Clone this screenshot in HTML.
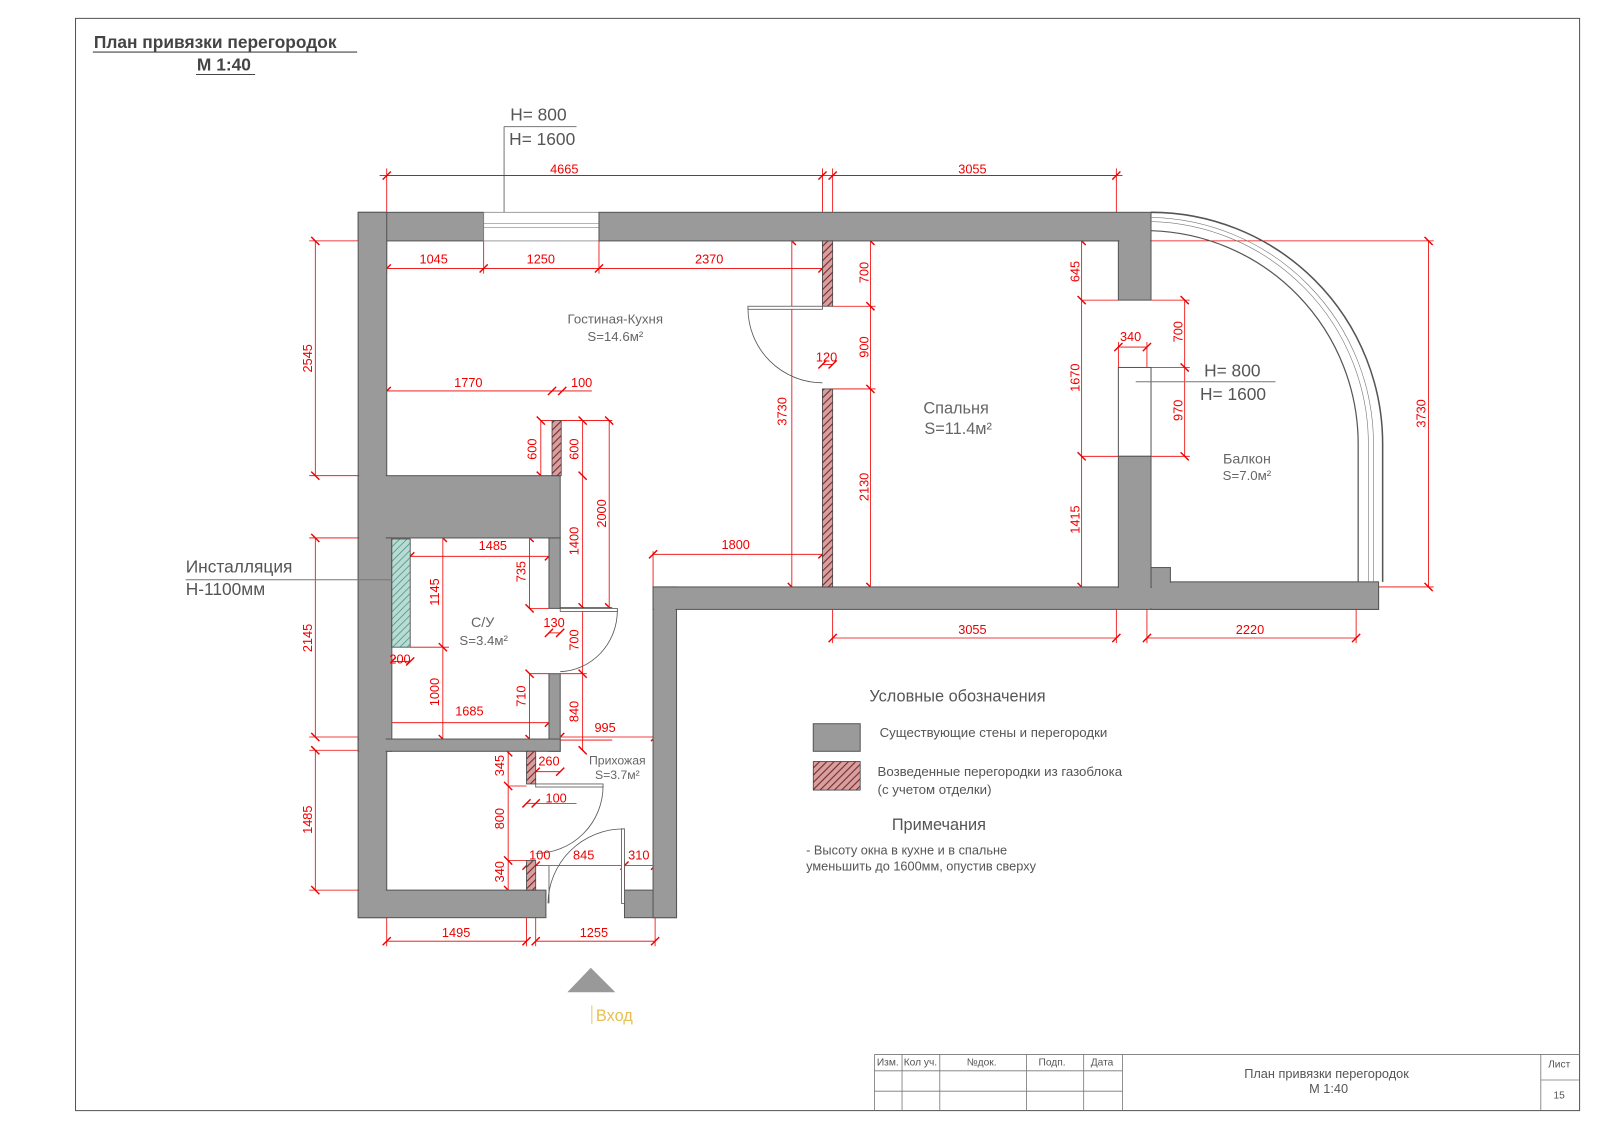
<!DOCTYPE html>
<html><head><meta charset="utf-8"><style>
html,body{margin:0;padding:0;background:#fff}
svg{display:block}
text{font-family:"Liberation Sans",sans-serif}
.d{fill:#e00;font-size:12.5px;text-anchor:middle}
.g{fill:#666;text-anchor:middle}
.w{fill:#9a9a9a;stroke:#555;stroke-width:1}
.h{fill:url(#hat);stroke:#444;stroke-width:0.8}
.l{fill:none;stroke:#e00;stroke-width:0.8}
.dl{fill:none;stroke:#e00;stroke-width:0.8;marker-start:url(#t);marker-mid:url(#t);marker-end:url(#t)}
.k{fill:none;stroke:#555;stroke-width:0.8}
</style></head><body>
<svg width="1600" height="1130" viewBox="0 0 1568 1107" preserveAspectRatio="none" xmlns="http://www.w3.org/2000/svg">
<defs>
<pattern id="hat" patternUnits="userSpaceOnUse" width="5" height="5" patternTransform="rotate(45)">
<rect width="5" height="5" fill="#d7a0a0"/><line x1="0" y1="0" x2="0" y2="5" stroke="#7a2a2a" stroke-width="2.2"/></pattern>
<pattern id="grn" patternUnits="userSpaceOnUse" width="5" height="5" patternTransform="rotate(45)">
<rect width="5" height="5" fill="#b8dcd4"/><line x1="0" y1="0" x2="0" y2="5" stroke="#4a9080" stroke-width="1.5"/></pattern>
<marker id="t" markerUnits="userSpaceOnUse" markerWidth="14" markerHeight="14" refX="7" refY="7" orient="auto"><line x1="3" y1="11" x2="11" y2="3" stroke="#e00" stroke-width="1.4"/></marker>
</defs>
<rect x="0" y="0" width="1576" height="1113" fill="#fff"/>
<rect x="74" y="18" width="1474" height="1070" fill="none" stroke="#555" stroke-width="1"/>

<text x="92" y="47" font-size="17" font-weight="bold" fill="#444">План привязки перегородок</text>
<line x1="91" y1="51" x2="350" y2="51" stroke="#444"/>
<text x="193" y="69" font-size="17" font-weight="bold" fill="#444">М 1:40</text>
<line x1="192" y1="73" x2="250" y2="73" stroke="#444"/>

<text x="500" y="118" font-size="17" fill="#555">H= 800</text>
<line x1="494" y1="124" x2="565" y2="124" stroke="#777"/>
<text x="499" y="142" font-size="17" fill="#555">H= 1600</text>
<line x1="494" y1="124" x2="494" y2="208" stroke="#777"/>

<g class="l">
<line x1="379" y1="165" x2="379" y2="268"/><line x1="806" y1="165" x2="806" y2="236"/>
<line x1="816" y1="165" x2="816" y2="236"/><line x1="1094" y1="165" x2="1094" y2="236"/>
<line x1="474" y1="236" x2="474" y2="268"/><line x1="587" y1="236" x2="587" y2="268"/>
<line x1="303" y1="236" x2="351" y2="236"/><line x1="303" y1="466" x2="351" y2="466"/>
<line x1="303" y1="527" x2="351" y2="527"/><line x1="303" y1="722" x2="351" y2="722"/>
<line x1="303" y1="735" x2="351" y2="735"/><line x1="303" y1="872" x2="351" y2="872"/>
<line x1="1060" y1="236" x2="1405" y2="236"/><line x1="640" y1="575" x2="1405" y2="575"/>
<line x1="816" y1="300" x2="858" y2="300"/><line x1="816" y1="381" x2="858" y2="381"/>
<line x1="530" y1="412" x2="600" y2="412"/><line x1="549" y1="595" x2="600" y2="595"/>
<line x1="640" y1="540" x2="640" y2="575"/>
<line x1="816" y1="597" x2="816" y2="630"/><line x1="1094" y1="597" x2="1094" y2="630"/>
<line x1="1124" y1="597" x2="1124" y2="630"/><line x1="1329" y1="570" x2="1329" y2="630"/>
<line x1="1124" y1="294" x2="1166" y2="294"/><line x1="1124" y1="360" x2="1166" y2="360"/><line x1="1124" y1="447" x2="1166" y2="447"/>
<line x1="1060" y1="294" x2="1096" y2="294"/><line x1="1060" y1="447" x2="1096" y2="447"/>
<line x1="1096" y1="335" x2="1096" y2="360"/><line x1="1124" y1="335" x2="1124" y2="360"/>
<line x1="379" y1="897" x2="379" y2="927"/><line x1="516" y1="872" x2="516" y2="927"/><line x1="525" y1="872" x2="525" y2="927"/><line x1="642" y1="897" x2="642" y2="927"/>
<line x1="612" y1="843" x2="612" y2="872"/><line x1="642" y1="830" x2="642" y2="850"/>
<line x1="498" y1="770" x2="516" y2="770"/><line x1="498" y1="843" x2="516" y2="843"/>
<line x1="549" y1="725" x2="600" y2="725"/><line x1="549" y1="660" x2="575" y2="660"/>
<line x1="519" y1="596" x2="538" y2="596"/><line x1="519" y1="660" x2="538" y2="660"/>
<line x1="402" y1="634" x2="440" y2="634"/>
</g>

<g>
<polyline class="dl" points="379,172 806,172"/>
<polyline class="dl" points="816,172 1094,172"/>
<line class="l" x1="372" y1="172" x2="1100" y2="172"/>
<polyline class="dl" points="379,263 474,263 587,263 806,263"/>
<polyline class="dl" points="309,236 309,466"/>
<polyline class="dl" points="309,527 309,722"/>
<polyline class="dl" points="309,735 309,872"/>
<polyline class="dl" points="379,383 541,383 551,383"/><line class="l" x1="541" y1="383" x2="580" y2="383"/>
<polyline class="dl" points="530,412 530,466"/>
<polyline class="dl" points="571,412 571,466 571,595 571,660 571,735"/>
<polyline class="dl" points="597,412 597,595"/>
<polyline class="dl" points="402,545 538,545"/>
<polyline class="dl" points="434,527 434,634 434,724"/>
<polyline class="dl" points="519,527 519,596"/>
<polyline class="dl" points="519,660 519,724"/>
<polyline class="dl" points="538,620 549,620"/>
<polyline class="dl" points="379,708 538,708"/>
<polyline class="dl" points="384,648 402,648"/>
<polyline class="dl" points="549,722 642,722"/>
<polyline class="dl" points="525,756 549,756"/>
<polyline class="dl" points="498,737 498,770 498,843 498,872"/>
<polyline class="dl" points="516,787 525,787"/><line class="l" x1="525" y1="787" x2="565" y2="787"/>
<polyline class="dl" points="516,848 525,848 612,848 642,848"/>
<polyline class="dl" points="379,922 516,922"/>
<polyline class="dl" points="525,922 642,922"/>
<polyline class="dl" points="640,543 806,543"/>
<polyline class="dl" points="776,236 776,575"/>
<polyline class="dl" points="853,236 853,300 853,381 853,575"/>
<polyline class="dl" points="806,357 816,357"/>
<polyline class="dl" points="816,625 1094,625"/>
<polyline class="dl" points="1124,625 1329,625"/>
<polyline class="dl" points="1060,236 1060,294 1060,447 1060,575"/>
<polyline class="dl" points="1096,340 1124,340"/>
<polyline class="dl" points="1161,294 1161,360 1161,447"/>
<polyline class="dl" points="1400,236 1400,575"/>
</g>

<rect class="w" x="351" y="208" width="123" height="28"/>
<rect x="474" y="208" width="113" height="28" fill="#fff" stroke="#888" stroke-width="0.8"/>
<line x1="474" y1="219" x2="587" y2="219" stroke="#888" stroke-width="0.6"/>
<line x1="474" y1="223" x2="587" y2="223" stroke="#888" stroke-width="0.6"/>
<rect class="w" x="587" y="208" width="541" height="28"/>
<rect class="w" x="351" y="208" width="28" height="691"/>
<rect class="w" x="351" y="466" width="198" height="61"/>
<rect class="w" x="351" y="527" width="33" height="209"/>
<rect class="w" x="538" y="527" width="11" height="69"/>
<rect class="w" x="538" y="660" width="11" height="76"/>
<rect class="w" x="351" y="724" width="198" height="12"/>
<rect class="w" x="351" y="872" width="184" height="27"/>
<rect class="w" x="612" y="872" width="51" height="27"/>
<rect class="w" x="640" y="575" width="23" height="324"/>
<rect class="w" x="640" y="575" width="711" height="22"/>
<rect class="w" x="1128" y="570" width="223" height="27"/>
<rect class="w" x="1128" y="556" width="19" height="20"/>
<rect class="w" x="1096" y="236" width="32" height="58"/>
<rect x="1096" y="360" width="32" height="87" fill="#fff" stroke="#555"/>
<rect class="w" x="1096" y="447" width="32" height="140"/>
<rect x="352" y="236" width="26" height="662" fill="#9a9a9a"/>
<rect x="352" y="467" width="196" height="59" fill="#9a9a9a"/>
<rect x="641" y="576" width="709" height="20" fill="#9a9a9a"/>
<rect x="641" y="576" width="21" height="322" fill="#9a9a9a"/>
<rect x="1097" y="448" width="30" height="148" fill="#9a9a9a"/>
<rect x="1097" y="235" width="30" height="4" fill="#9a9a9a"/>
<rect x="1129" y="571" width="221" height="25" fill="#9a9a9a"/>
<rect x="1129" y="557" width="17" height="20" fill="#9a9a9a"/>

<path d="M1128,208 A227,227 0 0 1 1355,435 L1355,570" fill="none" stroke="#555" stroke-width="1.5"/>
<path d="M1128,213 A222,222 0 0 1 1346,435 L1346,570" fill="none" stroke="#777" stroke-width="0.6"/>
<path d="M1128,217 A218,218 0 0 1 1341,435 L1341,570" fill="none" stroke="#777" stroke-width="0.6"/>
<path d="M1128,226 A209,209 0 0 1 1331,435 L1331,570" fill="none" stroke="#555" stroke-width="1.2"/>

<rect class="h" x="806" y="236" width="10" height="64"/>
<rect class="h" x="806" y="381" width="10" height="194"/>
<rect class="h" x="541" y="412" width="9" height="54"/>
<rect class="h" x="516" y="736" width="9" height="32"/>
<rect class="h" x="516" y="843" width="9" height="29"/>
<rect x="384" y="528" width="18" height="106" fill="url(#grn)" stroke="#444" stroke-width="0.8"/>

<g class="k">
<rect x="733" y="300" width="73" height="3" fill="#fff"/>
<path d="M733,302 A73,73 0 0 0 806,375"/>
<rect x="549" y="596" width="56" height="3" fill="#fff"/>
<path d="M605,598 A58,60 0 0 1 549,658"/>
<rect x="525" y="768" width="66" height="3" fill="#fff"/>
<path d="M591,770 A66,66 0 0 1 525,836"/>
<rect x="609" y="812" width="3" height="73" fill="#fff"/>
<path d="M611,812 A74,74 0 0 0 537,885"/>
<line x1="538" y1="848" x2="538" y2="885"/>
</g>

<text class="g" x="603" y="317" font-size="13">Гостиная-Кухня</text>
<text class="g" x="603" y="334" font-size="13">S=14.6м²</text>
<text class="g" x="937" y="405" font-size="16">Спальня</text>
<text class="g" x="939" y="425" font-size="16">S=11.4м²</text>
<text class="g" x="473" y="614" font-size="14">С/У</text>
<text class="g" x="474" y="632" font-size="13">S=3.4м²</text>
<text class="g" x="605" y="749" font-size="12">Прихожая</text>
<text class="g" x="605" y="763" font-size="12">S=3.7м²</text>
<text class="g" x="1222" y="454" font-size="14">Балкон</text>
<text class="g" x="1222" y="470" font-size="13">S=7.0м²</text>
<text x="1180" y="369" font-size="17" fill="#555">H= 800</text>
<line x1="1113" y1="374" x2="1250" y2="374" stroke="#777"/>
<text x="1176" y="392" font-size="17" fill="#555">H= 1600</text>
<text x="182" y="561" font-size="17" fill="#555">Инсталляция</text>
<line x1="182" y1="568" x2="384" y2="568" stroke="#777"/>
<text x="182" y="583" font-size="17" fill="#555">H-1100мм</text>

<g class="d">
<text x="553" y="170">4665</text><text x="953" y="170">3055</text>
<text x="425" y="258">1045</text><text x="530" y="258">1250</text><text x="695" y="258">2370</text>
<text x="459" y="379">1770</text><text x="570" y="379">100</text>
<text x="483" y="539">1485</text><text x="460" y="701">1685</text><text x="392" y="650">200</text>
<text x="543" y="614">130</text><text x="593" y="717">995</text><text x="538" y="750">260</text>
<text x="545" y="786">100</text><text x="529" y="842">100</text><text x="572" y="842">845</text><text x="626" y="842">310</text>
<text x="447" y="918">1495</text><text x="582" y="918">1255</text>
<text x="721" y="538">1800</text><text x="810" y="354">120</text>
<text x="953" y="621">3055</text><text x="1225" y="621">2220</text><text x="1108" y="334">340</text>
<text transform="translate(306,351) rotate(-90)">2545</text>
<text transform="translate(306,625) rotate(-90)">2145</text>
<text transform="translate(306,803) rotate(-90)">1485</text>
<text transform="translate(526,440) rotate(-90)">600</text>
<text transform="translate(567,440) rotate(-90)">600</text>
<text transform="translate(594,503) rotate(-90)">2000</text>
<text transform="translate(567,530) rotate(-90)">1400</text>
<text transform="translate(430,580) rotate(-90)">1145</text>
<text transform="translate(430,678) rotate(-90)">1000</text>
<text transform="translate(515,560) rotate(-90)">735</text>
<text transform="translate(515,682) rotate(-90)">710</text>
<text transform="translate(567,627) rotate(-90)">700</text>
<text transform="translate(567,697) rotate(-90)">840</text>
<text transform="translate(494,750) rotate(-90)">345</text>
<text transform="translate(494,802) rotate(-90)">800</text>
<text transform="translate(494,854) rotate(-90)">340</text>
<text transform="translate(771,403) rotate(-90)">3730</text>
<text transform="translate(851,267) rotate(-90)">700</text>
<text transform="translate(851,340) rotate(-90)">900</text>
<text transform="translate(851,477) rotate(-90)">2130</text>
<text transform="translate(1058,266) rotate(-90)">645</text>
<text transform="translate(1058,370) rotate(-90)">1670</text>
<text transform="translate(1058,509) rotate(-90)">1415</text>
<text transform="translate(1159,325) rotate(-90)">700</text>
<text transform="translate(1159,402) rotate(-90)">970</text>
<text transform="translate(1397,405) rotate(-90)">3730</text>
</g>

<polygon points="556,972 603,972 579,948" fill="#999"/>
<line x1="580" y1="985" x2="580" y2="1003" stroke="#e8c860"/>
<text x="584" y="1000" font-size="16" fill="#e8c050" font-family="Liberation Serif,serif">Вход</text>

<text x="852" y="687" font-size="16" fill="#555">Условные обозначения</text>
<rect class="w" x="797" y="709" width="46" height="27"/>
<text x="862" y="722" font-size="13" fill="#555">Существующие стены и перегородки</text>
<rect class="h" x="797" y="746" width="46" height="28"/>
<text x="860" y="760" font-size="13" fill="#555">Возведенные перегородки  из газоблока</text>
<text x="860" y="778" font-size="13" fill="#555">(с учетом отделки)</text>
<text x="874" y="813" font-size="16" fill="#555">Примечания</text>
<text x="790" y="837" font-size="12.5" fill="#555">- Высоту окна в кухне  и в спальне</text>
<text x="790" y="853" font-size="12.5" fill="#555">уменьшить до 1600мм, опустив сверху</text>

<g stroke="#777" stroke-width="0.8" fill="none">
<line x1="857" y1="1033" x2="1548" y2="1033"/>
<line x1="857" y1="1033" x2="857" y2="1088"/>
<line x1="884" y1="1033" x2="884" y2="1088"/><line x1="921" y1="1033" x2="921" y2="1088"/>
<line x1="1006" y1="1033" x2="1006" y2="1088"/><line x1="1062" y1="1033" x2="1062" y2="1088"/>
<line x1="1100" y1="1033" x2="1100" y2="1088"/><line x1="1510" y1="1033" x2="1510" y2="1088"/>
<line x1="857" y1="1049" x2="1100" y2="1049"/><line x1="857" y1="1069" x2="1100" y2="1069"/>
<line x1="1510" y1="1058" x2="1548" y2="1058"/>
</g>
<g font-size="10" fill="#555" text-anchor="middle">
<text x="870" y="1044">Изм.</text><text x="902" y="1044">Кол уч.</text><text x="962" y="1044">№док.</text>
<text x="1031" y="1044">Подп.</text><text x="1080" y="1044">Дата</text>
<text x="1528" y="1046">Лист</text><text x="1528" y="1076">15</text>
</g>
<text x="1300" y="1056" font-size="12.5" fill="#555" text-anchor="middle">План привязки перегородок</text>
<text x="1302" y="1071" font-size="12.5" fill="#555" text-anchor="middle">М 1:40</text>
</svg>
</body></html>
